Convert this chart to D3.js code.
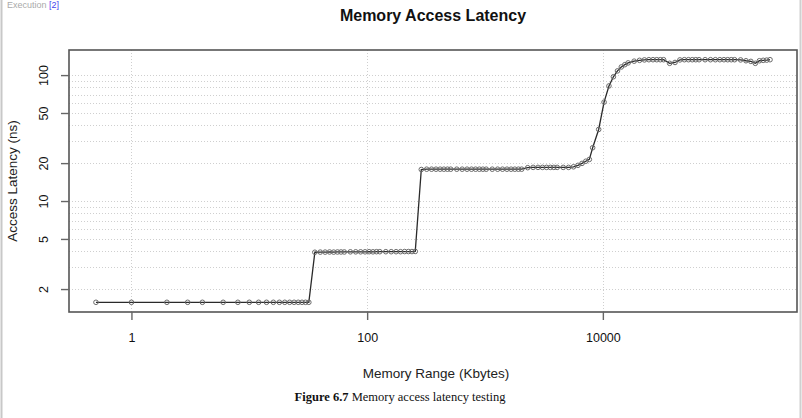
<!DOCTYPE html>
<html><head><meta charset="utf-8">
<script src="https://cdn.jsdelivr.net/npm/d3@7"></script>
<style>
html,body{margin:0;padding:0;background:#fff;}
svg{display:block;}
</style></head>
<body>
<svg id="chart" width="802" height="418"></svg>
<script>
// Memory range in KB
const sizesKB = [0.5, 1, 2, 3, 4, 6, 8, 10, 12, 14, 16, 18, 20, 22, 24, 26, 28, 30, 32,
  36, 40, 44, 48, 52, 56, 60, 64, 72, 80, 88, 96, 104, 112, 120, 128,
  144, 160, 176, 192, 208, 224, 240, 256,
  288, 320, 352, 384, 416, 448, 480, 512, 576, 640, 704, 768, 832, 896, 960, 1024,
  1152, 1280, 1408, 1536, 1664, 1792, 1920, 2048, 2304, 2560, 2816, 3072, 3328, 3584, 3840, 4096,
  4608, 5120, 5632, 6144, 6656, 7168, 7680, 8192, 9216, 10240, 11264, 12288, 13312, 14336, 15360, 16384,
  18432, 20480, 22528, 24576, 26624, 28672, 30720, 32768, 36864, 40960, 45056, 49152, 53248, 57344, 61440, 65536,
  73728, 81920, 90112, 98304, 106496, 114688, 122880, 131072, 147456, 163840, 180224, 196608, 212992, 229376, 245760, 262144];
// Access latency in ns
const latencyNs = [1.57, 1.57, 1.57, 1.57, 1.57, 1.57, 1.57, 1.57, 1.57, 1.57, 1.57, 1.57, 1.57, 1.57, 1.57, 1.57, 1.57, 1.57, 1.57,
  3.92, 3.93, 3.93, 3.94, 3.93, 3.94, 3.94, 3.94, 3.95, 3.95, 3.95, 3.95, 3.96, 3.95, 3.96, 3.96,
  3.96, 3.96, 3.96, 3.96, 3.97, 3.97, 3.97, 3.98,
  17.8, 17.9, 17.9, 17.9, 17.9, 17.9, 17.9, 17.9, 17.9, 17.9, 17.9, 17.9, 17.9, 17.9, 17.9, 17.9,
  17.9, 17.9, 17.9, 17.9, 17.9, 17.9, 17.9, 17.9, 18.4, 18.5, 18.5, 18.5, 18.5, 18.5, 18.5, 18.5,
  18.5, 18.5, 18.7, 19.2, 19.9, 20.7, 21.4, 26.5, 37, 61, 82, 97, 108, 116, 121, 125,
  129, 131, 132, 132.5, 132.5, 132.5, 132.5, 132.5, 124, 126, 132, 132.5, 132.5, 132.5, 132.5, 132.5,
  132.5, 132.5, 132.5, 132.5, 132.5, 132.5, 132.5, 132.5, 132, 130, 128.5, 124, 130, 131, 131.5, 132.5];
const xTickValues = [1, 100, 10000];
const yTickValues = [2, 5, 10, 20, 50, 100];
const yGridValues = [2, 3, 4, 5, 6, 7, 8, 9, 10, 20, 30, 40, 50, 60, 70, 80, 90, 100];
const titleText = "Memory Access Latency";
const xTitle = "Memory Range (Kbytes)";
const yTitle = "Access Latency (ns)";

const data = sizesKB.map((s, i) => ({x: s, y: latencyNs[i]}));

const svg = d3.select("#chart");
const L = 69, R = 797, T = 50, B = 312;

function rExtend(ext) {
  const a = Math.log10(ext[0]), b = Math.log10(ext[1]);
  const d = (b - a) * 0.04;
  return [Math.pow(10, a - d), Math.pow(10, b + d)];
}
const x = d3.scaleLog().domain(rExtend(d3.extent(sizesKB))).range([L, R]);
const y = d3.scaleLog().domain(rExtend(d3.extent(latencyNs))).range([B, T]);

// page borders
svg.append("line").attr("x1", 1.5).attr("x2", 1.5).attr("y1", 0).attr("y2", 418)
  .attr("stroke", "#c8c8c8").attr("stroke-width", 2);
svg.append("line").attr("x1", 800.5).attr("x2", 800.5).attr("y1", 0).attr("y2", 418)
  .attr("stroke", "#d0d0d0").attr("stroke-width", 2);

// heading text at top-left (cut off in the source page)
const head = svg.append("text").attr("x", 7).attr("y", 8)
  .attr("font-family", "Liberation Sans, Arial, sans-serif").attr("font-size", 9).attr("fill", "#aaa");
head.append("tspan").text("Execution ");
head.append("tspan").attr("fill", "#4444ee").text("[2]");

// grid
const grid = svg.append("g").attr("stroke", "#cfcfcf").attr("stroke-width", 1)
  .attr("stroke-dasharray", "1,2");
grid.selectAll("line.h").data(yGridValues).join("line").attr("class", "h")
  .attr("x1", L).attr("x2", R)
  .attr("y1", d => Math.round(y(d)) + 0.5).attr("y2", d => Math.round(y(d)) + 0.5);
grid.selectAll("line.v").data(xTickValues).join("line").attr("class", "v")
  .attr("y1", T).attr("y2", B)
  .attr("x1", d => Math.round(x(d)) + 0.5).attr("x2", d => Math.round(x(d)) + 0.5);

// line + points
svg.append("path").datum(data)
  .attr("fill", "none").attr("stroke", "#2a2a2a").attr("stroke-width", 1.3)
  .attr("d", d3.line().x(d => x(d.x)).y(d => y(d.y)));
svg.append("g").selectAll("circle").data(data).join("circle")
  .attr("cx", d => x(d.x)).attr("cy", d => y(d.y)).attr("r", 2.3)
  .attr("fill", "none").attr("stroke", "#6a6a6a").attr("stroke-width", 1);

// frame
svg.append("rect").attr("x", L).attr("y", T).attr("width", R - L).attr("height", B - T)
  .attr("fill", "none").attr("stroke", "#555").attr("stroke-width", 1.6);

// axes
const font = "Liberation Sans, Arial, Helvetica, sans-serif";
const xAxis = svg.append("g").attr("transform", `translate(0,${B})`)
  .call(d3.axisBottom(x).tickValues(xTickValues).tickFormat(d3.format("d")).tickSize(8).tickPadding(13));
xAxis.select(".domain").remove();
xAxis.selectAll(".tick line").attr("stroke", "#666").attr("stroke-width", 1.4);
xAxis.selectAll(".tick text").attr("font-family", font).attr("font-size", 12.5).attr("fill", "#111");

const yAxis = svg.append("g").attr("transform", `translate(${L},0)`)
  .call(d3.axisLeft(y).tickValues(yTickValues).tickFormat(d3.format("d")).tickSize(8));
yAxis.select(".domain").remove();
yAxis.selectAll(".tick line").attr("stroke", "#666").attr("stroke-width", 1.4);
yAxis.selectAll(".tick text").attr("font-family", font).attr("font-size", 12.5).attr("fill", "#111")
  .attr("text-anchor", "middle").attr("dominant-baseline", "middle")
  .attr("dy", 0).attr("x", 0).attr("y", 0)
  .attr("transform", "translate(-24,0) rotate(-90)");

// titles
svg.append("text").attr("x", (L + R) / 2).attr("y", 21).attr("text-anchor", "middle")
  .attr("font-family", font).attr("font-weight", "bold").attr("font-size", 16).attr("fill", "#111")
  .text(titleText);
svg.append("text").attr("x", 436).attr("y", 378).attr("text-anchor", "middle")
  .attr("font-family", font).attr("font-size", 13.5).attr("fill", "#222")
  .text(xTitle);
svg.append("text").attr("transform", `translate(17,${(T + B) / 2}) rotate(-90)`).attr("text-anchor", "middle")
  .attr("font-family", font).attr("font-size", 13.5).attr("fill", "#222")
  .text(yTitle);

// caption
const cap = svg.append("text").attr("x", 400).attr("y", 401).attr("text-anchor", "middle")
  .attr("font-family", "Liberation Serif, Times New Roman, serif").attr("font-size", 12.5).attr("fill", "#111");
cap.append("tspan").attr("font-weight", "bold").text("Figure 6.7");
cap.append("tspan").text(" Memory access latency testing");
</script>
</body></html>
